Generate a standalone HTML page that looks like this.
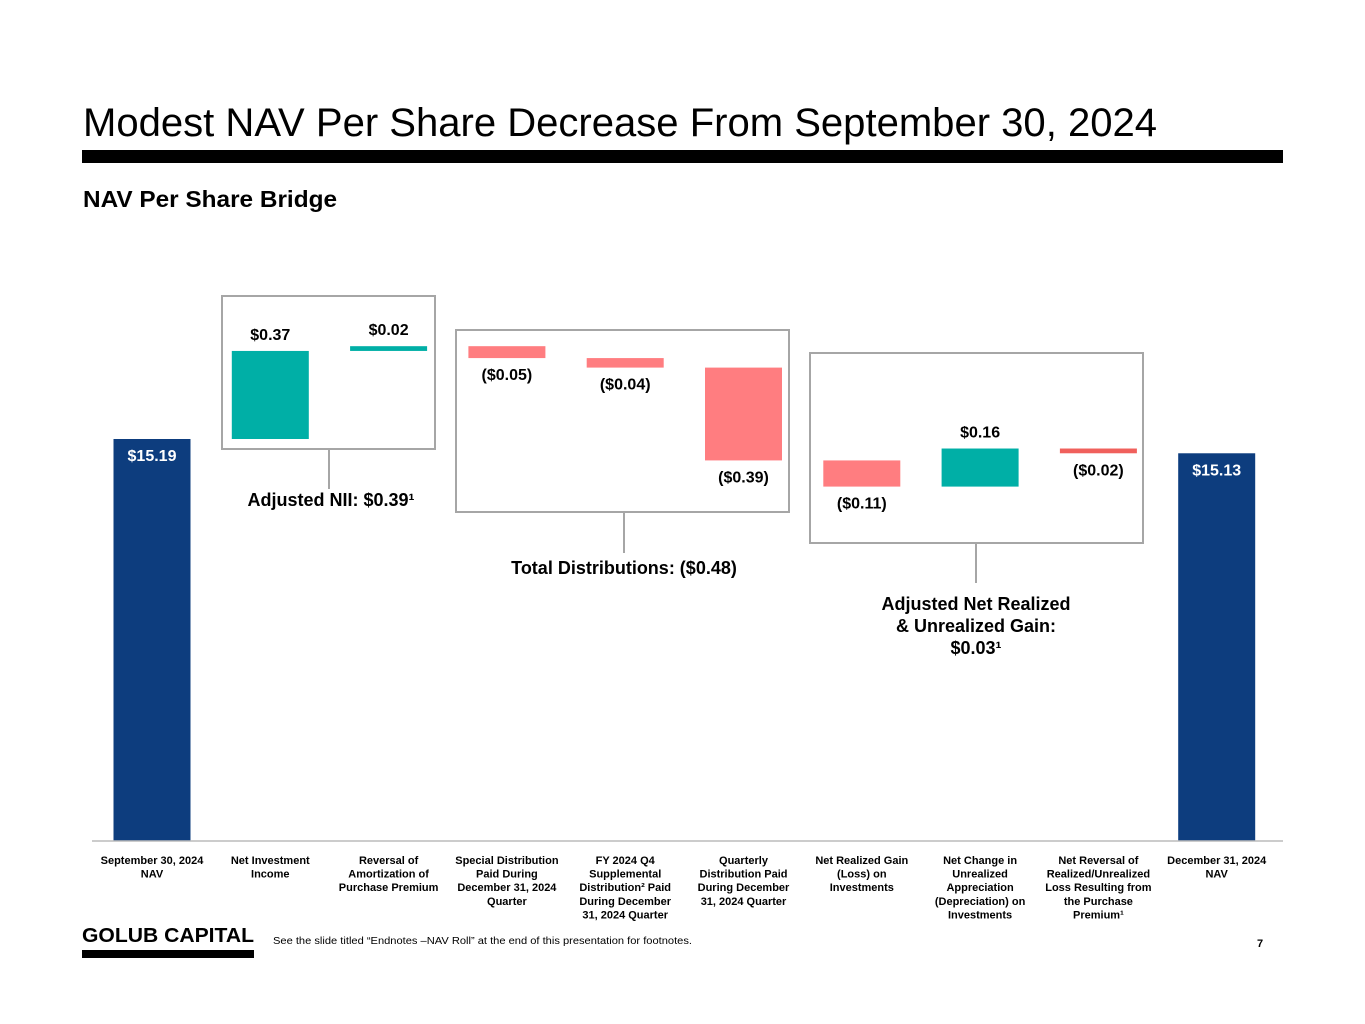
<!DOCTYPE html>
<html><head><meta charset="utf-8"><style>
html,body{margin:0;padding:0;background:#fff}
svg{display:block;font-family:"Liberation Sans Narrow","Liberation Sans",sans-serif}
</style></head><body>
<svg id="chart" width="1365" height="1024" viewBox="0 0 1365 1024" xmlns="http://www.w3.org/2000/svg">
<text x="83" y="136" font-family="Liberation Sans, sans-serif" font-size="40" fill="#000" textLength="1074" lengthAdjust="spacingAndGlyphs">Modest NAV Per Share Decrease From September 30, 2024</text>
<rect x="82" y="150" width="1201" height="13" fill="#000"/>
<text x="83" y="207" font-family="Liberation Sans, sans-serif" font-weight="bold" font-size="23" fill="#000" textLength="254" lengthAdjust="spacingAndGlyphs">NAV Per Share Bridge</text>
<g id="boxes"></g>
<g id="bars"></g>
<g id="labels"></g>
<line x1="92" y1="841" x2="1283" y2="841" stroke="#bbb" stroke-width="1.5"/>
<g id="cats"></g>
<text x="82" y="942" font-family="Liberation Sans, sans-serif" font-weight="bold" font-size="20" fill="#000" textLength="172" lengthAdjust="spacingAndGlyphs">GOLUB CAPITAL</text>
<rect x="82" y="950" width="172" height="8" fill="#000"/>
<text x="273" y="944" font-size="10" fill="#000" textLength="419" lengthAdjust="spacingAndGlyphs">See the slide titled “Endnotes –NAV Roll” at the end of this presentation for footnotes.</text>
<text x="1257" y="947" font-size="11" font-weight="bold" fill="#000">7</text>
</svg>
<script>
const categories=["September 30, 2024|NAV","Net Investment|Income","Reversal of|Amortization of|Purchase Premium","Special Distribution|Paid During|December 31, 2024|Quarter","FY 2024 Q4|Supplemental|Distribution² Paid|During December|31, 2024 Quarter","Quarterly|Distribution Paid|During December|31, 2024 Quarter","Net Realized Gain|(Loss) on|Investments","Net Change in|Unrealized|Appreciation|(Depreciation) on|Investments","Net Reversal of|Realized/Unrealized|Loss Resulting from|the Purchase|Premium¹","December 31, 2024|NAV"];
const deltas=[15.19,0.37,0.02,-0.05,-0.04,-0.39,-0.11,0.16,-0.02,15.13];
const valueLabels=["$15.19","$0.37","$0.02","($0.05)","($0.04)","($0.39)","($0.11)","$0.16","($0.02)","$15.13"];
const NS="http://www.w3.org/2000/svg";
const baseY=841;
function y(v){return 439-(v-15.19)*238;}
function x(i){return 152+i*118.3;}
const bw=77;
function mk(tag,attrs,parent){const e=document.createElementNS(NS,tag);for(const k in attrs)e.setAttribute(k,attrs[k]);document.getElementById(parent).appendChild(e);return e;}
let run=0;
deltas.forEach((d,i)=>{
  let top,bot,col;
  if(i===0||i===deltas.length-1){top=y(d);bot=baseY;col="#0d3d7e";run=d;}
  else{const a=run,b=run+d;run=b;top=y(Math.max(a,b));bot=y(Math.min(a,b));col=d>=0?"#00afa6":(i===8?"#f0605c":"#ff7d80");}
  const r=mk("rect",{x:x(i)-bw/2,y:top,width:bw,height:Math.max(bot-top,3),fill:col},"bars");
  
  
  let ly,fill="#000";
  if(i===0||i===deltas.length-1){ly=top+22;fill="#fff";}
  else if(d>=0){ly=top-11;}
  else{ly=bot+22;}
  const t=mk("text",{x:x(i),y:ly,"text-anchor":"middle","font-size":"16","font-weight":"bold",fill:fill},"labels");
  t.textContent=valueLabels[i];
  
  
  const ct=mk("text",{x:x(i),y:864,"text-anchor":"middle","font-size":"11","font-weight":"bold",fill:"#000"},"cats");
  
  
  categories[i].split("|").forEach((ln,j)=>{const s=document.createElementNS(NS,"tspan");s.setAttribute("x",x(i));s.setAttribute("dy",j?13.6:0);s.textContent=ln;ct.appendChild(s);});
});
const boxes=[[222,296,213,153,329,489,"Adjusted NII: $0.39¹",[506]],[456,330,333,182,624,553,"Total Distributions: ($0.48)",[574]],[810,353,333,190,976,583,"Adjusted Net Realized|& Unrealized Gain:|$0.03¹",[610,632,654]]];
boxes.forEach((b,k)=>{
  const r=mk("rect",{x:b[0],y:b[1],width:b[2],height:b[3],fill:"none",stroke:"#a6a6a6","stroke-width":"2"},"boxes");
  
  
  const l=mk("line",{x1:b[4],y1:b[1]+b[3],x2:b[4],y2:b[5],stroke:"#a6a6a6","stroke-width":"2"},"boxes");
  
  
  b[6].split("|").forEach((ln,j)=>{
    const t=mk("text",{x:b[4]+(k===0?2:0),y:b[7][j],"text-anchor":"middle","font-size":"18","font-weight":"bold",fill:"#000"},"boxes");
    t.textContent=ln;
    
    
  });
});
</script>
</body></html>
